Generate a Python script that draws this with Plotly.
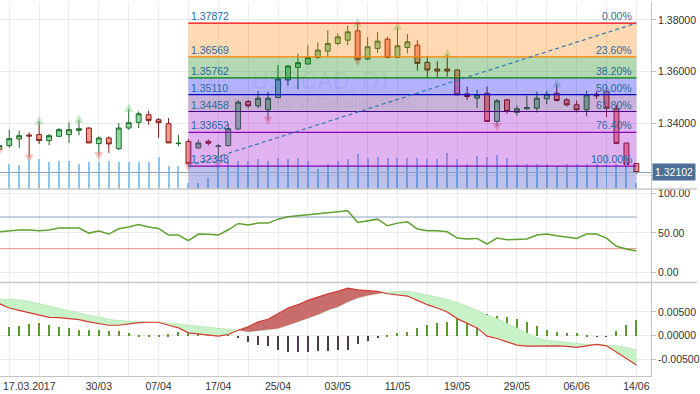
import plotly.graph_objects as go

# ---------------- data ----------------
idx = list(range(-1, 64))  # trading-day index; 0 = 17.03.2017, 63 = 14.06.2017

opens = [1.32989, 1.33141, 1.33397, 1.33551, 1.33564, 1.33333, 1.33500, 1.33564, 1.33730, 1.33820,
         1.33217, 1.33435, 1.33025, 1.33820, 1.34038, 1.34333, 1.34141, 1.33987, 1.33217, 1.33297,
         1.33050, 1.33306, 1.33114, 1.33140, 1.33780, 1.34845, 1.34678, 1.34524, 1.34998, 1.35678,
         1.36165, 1.36293, 1.36550, 1.36793, 1.37088, 1.37216, 1.37575, 1.36486, 1.36896, 1.37255,
         1.36550, 1.36934, 1.37024, 1.36357, 1.36101, 1.36101, 1.36063, 1.35139, 1.34973, 1.35165,
         1.34076, 1.34909, 1.34422, 1.34563, 1.34589, 1.34948, 1.35165, 1.34909, 1.34717, 1.34524,
         1.35127, 1.35229, 1.34563, 1.33242, 1.32448]
highs = [1.33160, 1.33756, 1.33718, 1.33653, 1.34076, 1.33589, 1.33820, 1.34038, 1.34141, 1.33846,
         1.33500, 1.33500, 1.34012, 1.34564, 1.34461, 1.34487, 1.34205, 1.34205, 1.33564, 1.33397,
         1.33370, 1.33383, 1.33204, 1.33973, 1.34909, 1.34909, 1.35255, 1.35229, 1.36255, 1.36255,
         1.36703, 1.37024, 1.37127, 1.37601, 1.37473, 1.37768, 1.37872, 1.37344, 1.37537, 1.37344,
         1.37729, 1.37447, 1.37216, 1.36614, 1.36409, 1.36678, 1.36075, 1.35422, 1.35296, 1.35422,
         1.34948, 1.34948, 1.34691, 1.35076, 1.35229, 1.35255, 1.35512, 1.34973, 1.34883, 1.35268,
         1.35229, 1.35294, 1.34717, 1.33242, 1.32448]
lows = [1.32960, 1.33051, 1.33051, 1.32666, 1.33205, 1.33153, 1.33461, 1.33243, 1.33538, 1.33243,
        1.32769, 1.32859, 1.32961, 1.33756, 1.33820, 1.33948, 1.33435, 1.33243, 1.33115, 1.32348,
        1.33024, 1.33140, 1.32420, 1.33114, 1.33742, 1.34588, 1.34588, 1.34139, 1.34998, 1.35460,
        1.35319, 1.36293, 1.36486, 1.36601, 1.37024, 1.37024, 1.36409, 1.36447, 1.36729, 1.36511,
        1.36550, 1.36704, 1.36037, 1.35781, 1.35781, 1.35806, 1.35101, 1.34909, 1.34589, 1.34050,
        1.33883, 1.34371, 1.34294, 1.34537, 1.34422, 1.34742, 1.34845, 1.34653, 1.34422, 1.34268,
        1.34948, 1.34242, 1.33217, 1.32127, 1.32050]
closes = [1.33143, 1.33410, 1.33525, 1.33512, 1.33333, 1.33525, 1.33756, 1.33756, 1.33794, 1.33243,
          1.33435, 1.33205, 1.33820, 1.34025, 1.34371, 1.34115, 1.34025, 1.33243, 1.33230, 1.32443,
          1.33242, 1.33229, 1.33120, 1.33793, 1.34819, 1.34678, 1.34973, 1.34973, 1.35716, 1.36216,
          1.36345, 1.36550, 1.36832, 1.37088, 1.37344, 1.37537, 1.36473, 1.36960, 1.37178, 1.36550,
          1.36998, 1.37152, 1.36319, 1.36063, 1.36024, 1.36024, 1.35101, 1.35037, 1.35104, 1.34076,
          1.34871, 1.34460, 1.34563, 1.34614, 1.34973, 1.35127, 1.34883, 1.34717, 1.34524, 1.35101,
          1.35063, 1.34589, 1.33217, 1.32409, 1.32102]
volume = [100, 99, 96, 119, 121, 109, 112, 112, 99, 109,
          109, 112, 109, 109, 109, 109, 128, 92, 92, 24,
          24, 45, 132, 112, 112, 112, 119, 112, 125, 119,
          124, 112, 80, 100, 112, 119, 139, 125, 128, 125,
          125, 125, 125, 119, 119, 145, 121, 99, 132, 128,
          136, 125, 100, 100, 100, 100, 92, 100, 100, 100,
          100, 132, 100, 132, 24]

fractal_up_idx = [3, 7, 12, 35, 39, 44, 55, 60]
fractal_down_idx = [-1, 2, 9, 18, 21, 26, 35, 49]

rsi = [51.4, 52.7, 53.5, 53.5, 52.7, 53.5, 56.0, 56.0, 56.0, 49.7,
       52.2, 48.5, 55.2, 57.3, 60.6, 57.3, 55.6, 47.2, 47.2, 40.1,
       48.5, 48.1, 47.2, 53.9, 61.9, 59.8, 62.3, 62.3, 67.3, 70.3,
       71.5, 72.3, 73.6, 74.9, 76.5, 77.8, 63.1, 65.2, 67.3, 58.9,
       62.3, 64.0, 54.8, 52.7, 52.7, 51.4, 43.4, 42.2, 43.0, 35.9,
       43.4, 41.3, 42.2, 42.2, 47.2, 48.5, 46.4, 44.3, 43.0, 48.5,
       48.5, 43.4, 33.0, 29.6, 27.1]
rsi_levels = [70, 30]

macd = [6.72, 5.81, 5.32, 4.83, 4.27, 3.85, 3.78, 3.57, 3.36, 2.87,
        2.52, 2.17, 2.17, 2.45, 2.73, 2.80, 2.80, 2.17, 1.61, 0.56,
        0.28, 0.07, -0.14, 0.21, 1.12, 1.82, 2.87, 3.43, 4.62, 5.81,
        6.51, 7.42, 8.12, 8.82, 9.31, 10.01, 9.66, 9.45, 9.31, 8.82,
        8.61, 8.33, 7.42, 6.51, 5.81, 4.97, 3.57, 2.52, 1.61, -0.14,
        -0.63, -1.33, -2.03, -2.24, -2.24, -2.10, -2.17, -2.31, -2.52, -2.17,
        -1.89, -2.17, -3.43, -4.83, -6.24]
signal = [7.63, 7.56, 7.56, 7.21, 6.72, 6.23, 5.67, 5.18, 4.76, 4.27,
          3.92, 3.43, 3.15, 3.01, 2.87, 2.82, 2.80, 2.66, 2.45, 2.17,
          1.96, 1.82, 1.61, 1.33, 1.12, 0.77, 0.98, 1.12, 1.47, 2.17,
          2.87, 3.71, 4.41, 5.32, 6.02, 7.07, 7.91, 8.47, 8.82, 9.17,
          9.31, 9.31, 9.03, 8.61, 8.12, 7.63, 6.93, 6.23, 5.32, 4.27,
          3.57, 2.52, 1.47, 0.42, -0.49, -0.98, -1.19, -1.47, -1.68, -1.89,
          -1.89, -2.03, -2.17, -2.52, -3.08]
hist = [1.80, 1.96, 2.17, 2.45, 2.66, 2.31, 1.96, 1.61, 1.19, 1.33,
        1.33, 1.12, 0.98, 0.70, 0.21, 0.14, 0.07, 0.42, 0.91, 1.82,
        1.82, 1.68, 1.61, 0.91, -0.28, -1.19, -1.82, -2.17, -2.87, -3.29,
        -3.43, -3.29, -3.15, -3.08, -2.87, -2.87, -1.68, -1.05, -0.49, 0.21,
        0.70, 0.91, 1.61, 2.31, 2.66, 2.87, 3.57, 4.06, 4.06, 4.62,
        4.27, 3.92, 3.57, 3.01, 2.17, 1.33, 0.91, 0.56, 0.56, 0.21,
        -0.14, -0.07, 1.12, 2.38, 3.36]
macd_scale = 0.001  # values above are in thousandths

fib_start_idx = 18
fib_end_idx = 63
fib_levels = [1.37872, 1.36569, 1.35762, 1.35110, 1.34458, 1.33652, 1.32348]
fib_pct = ["0.00%", "23.60%", "38.20%", "50.00%", "61.80%", "76.40%", "100.00%"]

last_price = 1.32102

x_tick_idx = [0, 9, 15, 21, 27, 33, 39, 45, 51, 57, 63]
x_tick_labels = ["17.03.2017", "30/03", "07/04", "17/04", "25/04", "03/05",
                 "11/05", "19/05", "29/05", "06/06", "14/06"]
price_ticks = [1.32, 1.34, 1.36, 1.38]
rsi_ticks = [0, 50, 100]
macd_ticks = [-0.005, 0.0, 0.005]

# ---------------- styles ----------------
FONT = "Liberation Sans"
GRID = "#ebebeb"
AXLINE = "#c4c4c4"
TXT = "#333333"
FIB_TXT = "#2a6aa0"
fib_line_colors = ["#f00000", "#ff8000", "#008000", "#0000c8", "#4b0082", "#8a00b4", "#8a00b4"]
fib_zone_colors = ["rgba(255,128,0,0.30)", "rgba(0,128,0,0.30)", "rgba(0,0,255,0.30)",
                   "rgba(75,0,130,0.30)", "rgba(153,0,204,0.30)", "rgba(153,0,204,0.30)"]
fib_below_color = "rgba(40,50,190,0.30)"

PRICE_RANGE = [1.31463, 1.38691]
RSI_RANGE = [-12.7, 105.4]
MACD_RANGE = [-0.00855, 0.011197]
X_RANGE = [-0.93, 64.47]

fig = go.Figure()

# volume (overlay axis)
fig.add_trace(go.Bar(x=idx, y=volume, yaxis="y4", width=0.1,
                     marker=dict(color="#8cc6ee", line=dict(width=0)),
                     hoverinfo="skip", showlegend=False))

# candles
fig.add_trace(go.Candlestick(
    x=idx, open=opens, high=highs, low=lows, close=closes, yaxis="y",
    increasing=dict(line=dict(color="#1d6b2b", width=1), fillcolor="#8fd59d"),
    decreasing=dict(line=dict(color="#7d1f17", width=1), fillcolor="#f7998b"),
    whiskerwidth=0, showlegend=False, hoverinfo="skip"))

# fractals
frac_off = 0.0022
pos = {k: i for i, k in enumerate(idx)}
fig.add_trace(go.Scatter(
    x=fractal_up_idx, y=[highs[pos[k]] + frac_off for k in fractal_up_idx], yaxis="y",
    mode="markers", marker=dict(symbol="arrow-up", size=9, color="rgba(120,205,130,0.42)"),
    hoverinfo="skip", showlegend=False))
fig.add_trace(go.Scatter(
    x=fractal_down_idx, y=[lows[pos[k]] - frac_off for k in fractal_down_idx], yaxis="y",
    mode="markers", marker=dict(symbol="arrow-down", size=9, color="rgba(245,120,110,0.42)"),
    hoverinfo="skip", showlegend=False))

# RSI
for lv, col in zip(rsi_levels, ["#8ea2be", "#e58a84"]):
    fig.add_trace(go.Scatter(x=[idx[0], idx[-1]], y=[lv, lv], yaxis="y2", mode="lines",
                             line=dict(color=col, width=1), hoverinfo="skip", showlegend=False))
fig.add_trace(go.Scatter(x=idx, y=rsi, yaxis="y2", mode="lines",
                         line=dict(color="#5da12e", width=1.5), hoverinfo="skip", showlegend=False))

# MACD: fills with crossing points
m = [v * macd_scale for v in macd]
s = [v * macd_scale for v in signal]
xs, mf, sf = [], [], []
for i in range(len(idx)):
    xs.append(idx[i]); mf.append(m[i]); sf.append(s[i])
    if i < len(idx) - 1:
        d0 = m[i] - s[i]
        d1 = m[i + 1] - s[i + 1]
        if d0 * d1 < 0:
            t = d0 / (d0 - d1)
            xc = idx[i] + t * (idx[i + 1] - idx[i])
            yc = m[i] + t * (m[i + 1] - m[i])
            xs.append(xc); mf.append(yc); sf.append(yc)
lo = [min(a, b) for a, b in zip(mf, sf)]

fig.add_trace(go.Scatter(x=xs, y=lo, yaxis="y3", mode="lines", line=dict(width=0),
                         hoverinfo="skip", showlegend=False))
fig.add_trace(go.Scatter(x=xs, y=sf, yaxis="y3", mode="lines", line=dict(width=0.8, color="#b5e6b5"),
                         fill="tonexty", fillcolor="rgba(200,242,200,1)",
                         hoverinfo="skip", showlegend=False))
fig.add_trace(go.Scatter(x=xs, y=lo, yaxis="y3", mode="lines", line=dict(width=0),
                         hoverinfo="skip", showlegend=False))
fig.add_trace(go.Scatter(x=xs, y=mf, yaxis="y3", mode="lines", line=dict(width=0),
                         fill="tonexty", fillcolor="rgba(200,108,108,1)",
                         hoverinfo="skip", showlegend=False))
fig.add_trace(go.Bar(x=idx, y=[v * macd_scale for v in hist], yaxis="y3", width=0.11,
                     marker=dict(color=["#5a9c2c" if v >= 0 else "#4a3a4c" for v in hist],
                                 line=dict(width=0)),
                     hoverinfo="skip", showlegend=False))
fig.add_trace(go.Scatter(x=idx, y=m, yaxis="y3", mode="lines",
                         line=dict(color="#d23c34", width=1.2), hoverinfo="skip", showlegend=False))

# ---------------- shapes ----------------
shapes = []
for i in range(len(fib_levels) - 1):
    shapes.append(dict(type="rect", xref="x", yref="y", x0=fib_start_idx, x1=fib_end_idx,
                       y0=fib_levels[i + 1], y1=fib_levels[i], fillcolor=fib_zone_colors[i],
                       line=dict(width=0), layer="above"))
shapes.append(dict(type="rect", xref="x", yref="y", x0=fib_start_idx, x1=fib_end_idx,
                   y0=PRICE_RANGE[0], y1=fib_levels[-1], fillcolor=fib_below_color,
                   line=dict(width=0), layer="above"))
for lv, col in zip(fib_levels, fib_line_colors):
    shapes.append(dict(type="line", xref="x", yref="y", x0=fib_start_idx, x1=fib_end_idx,
                       y0=lv, y1=lv, line=dict(color=col, width=1.2), layer="above"))
# trend line of the retracement
shapes.append(dict(type="line", xref="x", yref="y", x0=fib_start_idx, x1=fib_end_idx,
                   y0=fib_levels[-1], y1=fib_levels[0],
                   line=dict(color="#3f7fb5", width=1.3, dash="4px,3px"), layer="above"))
# last price line
shapes.append(dict(type="line", xref="paper", yref="y", x0=0, x1=1.0, y0=last_price, y1=last_price,
                   line=dict(color="#8aa1c2", width=1), layer="above"))
# pane separators
for yp in [0.5, 0.25]:
    shapes.append(dict(type="line", xref="paper", yref="paper", x0=0, x1=1.0703, y0=yp, y1=yp,
                       line=dict(color="#c8c8c8", width=1.5), layer="above"))

# ---------------- annotations ----------------
ann = []
for lv, pct in zip(fib_levels, fib_pct):
    ann.append(dict(x=fib_start_idx, y=lv, xref="x", yref="y", text=f"{lv:.5f}",
                    xanchor="left", yanchor="bottom", xshift=1, yshift=-1, showarrow=False,
                    font=dict(family=FONT, size=10.5, color=FIB_TXT)))
    ann.append(dict(x=fib_end_idx, y=lv, xref="x", yref="y", text=pct,
                    xanchor="right", yanchor="bottom", xshift=-2, yshift=-1, showarrow=False,
                    font=dict(family=FONT, size=10.5, color=FIB_TXT)))
# watermark
ann.append(dict(x=31.4, y=1.35654, xref="x", yref="y", text="USDCAD, D1", showarrow=False,
                font=dict(family=FONT, size=23, color="rgba(90,90,110,0.10)")))
ann.append(dict(x=31.4, y=1.34808, xref="x", yref="y", text="U.S. Dollar vs Canadian Dollar",
                showarrow=False, font=dict(family=FONT, size=14, color="rgba(90,90,110,0.10)")))
# last price label
ann.append(dict(x=1, y=last_price, xref="paper", yref="y", text=f"{last_price:.5f}",
                xanchor="left", yanchor="middle", xshift=1, showarrow=False,
                bgcolor="#4d6f96", borderpad=2, font=dict(family=FONT, size=10.5, color="white")))
# first date label (shifted inside the plot like the original)
ann.append(dict(x=0, y=0, xref="paper", yref="paper", text=x_tick_labels[0],
                xanchor="left", yanchor="top", xshift=1, yshift=-2, showarrow=False,
                font=dict(family=FONT, size=10.5, color=TXT)))

fmt5 = lambda v: f"{v:.5f}"
yaxis_common = dict(side="right", anchor="x", showline=True, linecolor=AXLINE, linewidth=1,
                    ticks="outside", ticklen=4, tickcolor=AXLINE, gridcolor=GRID, gridwidth=1,
                    zeroline=False, fixedrange=True,
                    tickfont=dict(family=FONT, size=10.5, color=TXT))

fig.update_layout(
    width=700, height=394,
    margin=dict(l=0, r=46, t=0, b=18),
    paper_bgcolor="white", plot_bgcolor="white",
    showlegend=False, hovermode=False,
    font=dict(family=FONT, size=10.5, color=TXT),
    bargap=0,
    xaxis=dict(range=X_RANGE, anchor="y3", showgrid=True, gridcolor=GRID, zeroline=False,
               tickvals=x_tick_idx, ticktext=[""] + x_tick_labels[1:], ticks="",
               showline=True, linecolor=AXLINE, rangeslider=dict(visible=False),
               minor=dict(dtick=3, tick0=0, showgrid=True, gridcolor=GRID),
               tickfont=dict(family=FONT, size=10.5, color=TXT)),
    yaxis=dict(domain=[0.5, 1.0], range=PRICE_RANGE, tickvals=price_ticks,
               ticktext=[""] + [fmt5(v) for v in price_ticks[1:]], **yaxis_common),
    yaxis2=dict(domain=[0.25, 0.5], range=RSI_RANGE, tickvals=rsi_ticks,
                ticktext=[f"{v:.2f}" for v in rsi_ticks], **yaxis_common),
    yaxis3=dict(domain=[0.0, 0.25], range=MACD_RANGE, tickvals=macd_ticks,
                ticktext=[fmt5(v) if v != 0 else "0.00000" for v in macd_ticks], **yaxis_common),
    yaxis4=dict(overlaying="y", range=[0, 752], visible=False, fixedrange=True),
    shapes=shapes, annotations=ann,
)

fig.write_html("out.html", config={"displayModeBar": False},
               post_script="document.body.style.margin='0';document.body.style.padding='0';document.body.style.overflow='hidden';")
